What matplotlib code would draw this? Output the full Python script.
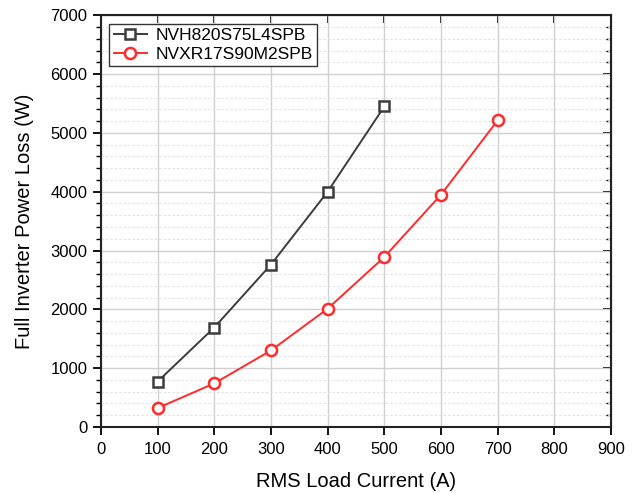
import numpy as np
import matplotlib.pyplot as plt
from matplotlib.ticker import MultipleLocator

plt.rcParams['font.family'] = ['Liberation Sans', 'DejaVu Sans']

# data
current_a = [100, 200, 300, 400, 500]
loss_a = [770, 1690, 2760, 4000, 5450]
current_b = [100, 200, 300, 400, 500, 600, 700]
loss_b = [320, 740, 1300, 2010, 2890, 3950, 5215]
labels = ['NVH820S75L4SPB', 'NVXR17S90M2SPB']

fig = plt.figure(figsize=(6.34, 4.93), dpi=100)
ax = fig.add_axes([0.159, 0.134, 0.805, 0.835])

ax.plot(current_a, loss_a, color='#3c3c3c', lw=1.4, marker='s', ms=6.5,
        mfc='white', mec='#3c3c3c', mew=1.8, label=labels[0], zorder=3)
ax.plot(current_b, loss_b, color='#ff2a2a', lw=1.4, marker='o', ms=8,
        mfc='white', mec='#ff2a2a', mew=1.8, label=labels[1], zorder=3)

ax.set_xlim(0, 900)
ax.set_ylim(0, 7000)
ax.xaxis.set_major_locator(MultipleLocator(100))
ax.yaxis.set_major_locator(MultipleLocator(1000))
ax.yaxis.set_minor_locator(MultipleLocator(200))

ax.grid(True, which='major', color='#d0d0d0', lw=1.0)
ax.grid(True, which='minor', axis='y', color='#e0e0e0', lw=0.8, ls=(0, (2, 2)))
ax.set_axisbelow(True)

for s in ax.spines.values():
    s.set_linewidth(1.5)
    s.set_color('#222222')

ax.tick_params(which='major', direction='out', length=6, width=1.3, labelsize=12)
ax.tick_params(axis='x', which='major', pad=5)
ax.tick_params(which='minor', direction='out', length=3.5, width=1.0)

# mirrored ticks on top and right, pointing inward
sec_x = ax.secondary_xaxis('top')
sec_x.xaxis.set_major_locator(MultipleLocator(100))
sec_x.tick_params(direction='in', length=6, width=1.3, labeltop=False)
sec_y = ax.secondary_yaxis('right')
sec_y.yaxis.set_major_locator(MultipleLocator(1000))
sec_y.yaxis.set_minor_locator(MultipleLocator(200))
sec_y.tick_params(which='major', direction='in', length=6, width=1.3, labelright=False)
sec_y.tick_params(which='minor', direction='in', length=3.5, width=1.0)

ax.set_xlabel('RMS Load Current (A)', fontsize=14.5, labelpad=11)
ax.set_ylabel('Full Inverter Power Loss (W)', fontsize=14.5, labelpad=12)

leg = ax.legend(loc='upper left', fontsize=12.5, fancybox=False, framealpha=1,
                edgecolor='#333333', borderpad=0.25, handlelength=1.9,
                handletextpad=0.5, labelspacing=0.2, borderaxespad=0.5)
leg.get_frame().set_linewidth(1.0)

fig.savefig('out.png', dpi=100)
